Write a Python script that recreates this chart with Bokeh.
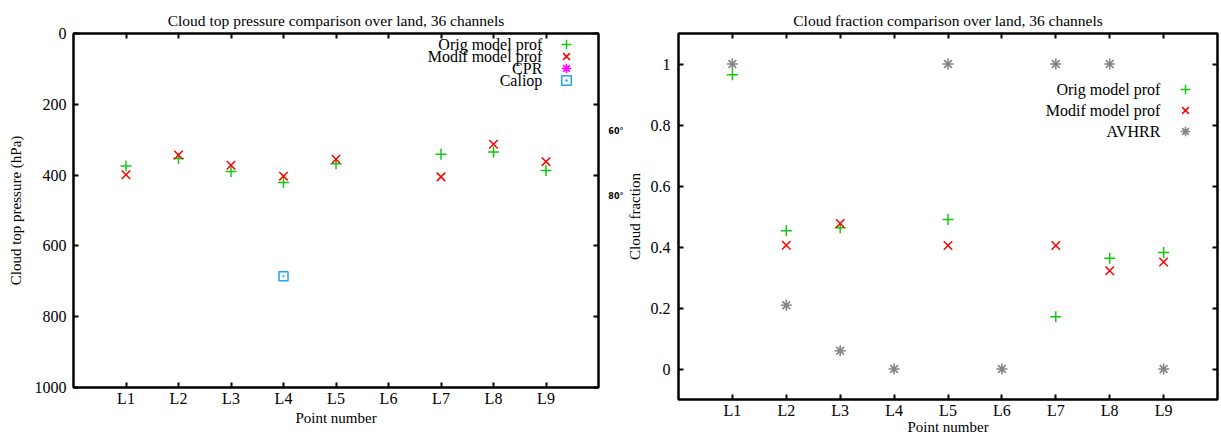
import math
from bokeh.plotting import figure
from bokeh.layouts import row
from bokeh.models import Range1d, FixedTicker, LinearAxis, Legend, LegendItem, Label
from bokeh.core.properties import value
from bokeh.embed import file_html
from bokeh.resources import INLINE

NaN = float("nan")

# ---------------- data ----------------
categories = ["L1", "L2", "L3", "L4", "L5", "L6", "L7", "L8", "L9"]
positions = list(range(1, len(categories) + 1))

ctp_title = "Cloud top pressure comparison over land, 36 channels"
ctp_series = ["Orig model prof", "Modif model prof", "CPR", "Caliop"]
ctp_orig = [374, 353, 390, 421, 368, NaN, 341, 335, 387]
ctp_modif = [399, 343, 372, 403, 355, NaN, 405, 313, 362]
ctp_cpr = [NaN, NaN, NaN, NaN, NaN, NaN, NaN, NaN, NaN]
ctp_caliop = [NaN, NaN, NaN, 686, NaN, NaN, NaN, NaN, NaN]
ctp_ticks = [0, 200, 400, 600, 800, 1000]

cf_title = "Cloud fraction comparison over land, 36 channels"
cf_series = ["Orig model prof", "Modif model prof", "AVHRR"]
cf_orig = [0.965, 0.453, 0.463, NaN, 0.490, NaN, 0.171, 0.363, 0.382]
cf_modif = [NaN, 0.406, 0.477, NaN, 0.405, NaN, 0.405, 0.322, 0.351]
cf_avhrr = [1.0, 0.209, 0.06, 0.0, 1.0, 0.0, 1.0, 1.0, 0.0]
cf_ticks = [0, 0.2, 0.4, 0.6, 0.8, 1]
cf_tick_labels = ["0", "0.2", "0.4", "0.6", "0.8", "1"]

# stray map-latitude labels visible between the panels
map_labels = ["60°", "80°"]
map_label_pos = [0.779, 0.566]

# ---------------- style ----------------
FONT = "Liberation Serif"
GREEN = "#10c810"
RED = "#ff0000"
MAGENTA = "#ff00ff"
CYAN = "#1aa6ee"
GRAY = "#858585"


def base_fig(fw, fh, title, y_range, borders, tfs):
    l, r, t, b = borders
    p = figure(frame_width=fw, frame_height=fh, x_range=Range1d(0, 10), y_range=y_range,
               output_backend="svg", toolbar_location=None, title=title,
               min_border_left=l, min_border_right=r, min_border_top=t, min_border_bottom=b)
    p.title.text_font = FONT
    p.title.text_font_style = "normal"
    p.title.text_font_size = tfs
    p.title.align = "center"
    p.title.text_color = "black"
    p.xgrid.visible = False
    p.ygrid.visible = False
    p.outline_line_color = "black"
    p.outline_line_width = 2.5
    p.outline_line_alpha = 1
    p.background_fill_color = "white"
    p.border_fill_color = "white"
    return p


def style_axis(ax, fs, afs):
    ax.axis_line_color = None
    ax.major_tick_in = 5
    ax.major_tick_out = 0
    ax.major_tick_line_width = 2
    ax.major_tick_line_color = "black"
    ax.minor_tick_line_color = None
    ax.major_label_text_font = FONT
    ax.major_label_text_font_size = fs
    ax.major_label_text_color = "black"
    ax.axis_label_text_font = FONT
    ax.axis_label_text_font_style = "normal"
    ax.axis_label_text_font_size = afs
    ax.axis_label_text_color = "black"


def mirror(p, ticker, loc):
    ax = LinearAxis(ticker=ticker)
    ax.axis_line_color = None
    ax.major_tick_in = 5
    ax.major_tick_out = 0
    ax.major_tick_line_width = 2
    ax.minor_tick_line_color = None
    ax.major_label_text_font_size = "0px"
    ax.major_label_text_color = None
    ax.major_label_standoff = 0
    p.add_layout(ax, loc)


def add_key(p, renderer, label, cx, cy, frame_h, tx, ty, fs):
    # legend symbol (glyph only) right of a right-aligned text, gnuplot style
    g = 24
    lg = Legend(items=[LegendItem(label=value(""), renderers=[renderer])],
                location=(cx - g / 2, frame_h - (cy + g / 2)), padding=0, margin=0,
                spacing=0, glyph_width=g, glyph_height=g, label_height=g,
                label_width=0, label_standoff=0,
                border_line_color=None, background_fill_alpha=0,
                label_text_font_size="1px")
    p.add_layout(lg, "center")
    p.add_layout(Label(x=tx, y=ty, text=label, text_align="right", text_baseline="middle",
                       text_font=FONT, text_font_size=fs, text_color="black"))


x_ticker = FixedTicker(ticks=positions)
x_labels = {pos: cat for pos, cat in zip(positions, categories)}

# ---------------- left panel ----------------
fh1 = 354
p1 = base_fig(525, fh1, ctp_title, Range1d(1000, 0), (73, 7, 33, 52), "15.5px")
style_axis(p1.xaxis[0], "16px", "15px")
style_axis(p1.yaxis[0], "16px", "15px")
p1.xaxis.ticker = x_ticker
p1.xaxis.major_label_overrides = x_labels
p1.xaxis.axis_label = "Point number"
p1.xaxis.major_label_standoff = 2
p1.xaxis.axis_label_standoff = 0
p1.yaxis.ticker = FixedTicker(ticks=ctp_ticks)
p1.yaxis.axis_label = "Cloud top pressure (hPa)"
p1.yaxis.major_label_standoff = 7
p1.yaxis.axis_label_standoff = 8
mirror(p1, FixedTicker(ticks=ctp_ticks), "right")
mirror(p1, x_ticker, "above")

r1 = p1.scatter(positions, ctp_orig, marker="cross", size=11, line_color=GREEN, line_width=1.5)
r2 = p1.scatter(positions, ctp_modif, marker="x", size=12, line_color=RED, line_width=1.5)
r3 = p1.scatter(positions, ctp_cpr, marker="asterisk", size=11, line_color=MAGENTA, line_width=1.5)
r4 = p1.scatter(positions, ctp_caliop, marker="square_dot", size=9, line_color=CYAN,
                fill_color=None, line_width=1.5)

key_rows1 = [11.2, 23.2, 35.4, 47.2]
for r, lab, cy in zip([r1, r2, r3, r4], ctp_series, key_rows1):
    add_key(p1, r, lab, 493, cy, fh1, 8.93, cy / fh1 * 1000, "16px")

# ---------------- right panel ----------------
fh2 = 366
p2 = base_fig(539, fh2, cf_title, Range1d(-0.1, 1.1), (73, 4, 33, 40), "15.5px")
style_axis(p2.xaxis[0], "16px", "15px")
style_axis(p2.yaxis[0], "16px", "15px")
p2.xaxis.ticker = x_ticker
p2.xaxis.major_label_overrides = x_labels
p2.xaxis.axis_label = "Point number"
p2.xaxis.major_label_standoff = 2
p2.xaxis.axis_label_standoff = -3
p2.yaxis.ticker = FixedTicker(ticks=cf_ticks)
p2.yaxis.major_label_overrides = {t: s for t, s in zip(cf_ticks, cf_tick_labels)}
p2.yaxis.axis_label = "Cloud fraction"
p2.yaxis.major_label_standoff = 8
p2.yaxis.axis_label_standoff = 5
mirror(p2, FixedTicker(ticks=cf_ticks), "right")
mirror(p2, x_ticker, "above")

lat_axis = LinearAxis(ticker=FixedTicker(ticks=map_label_pos),
                      major_label_overrides={t: s for t, s in zip(map_label_pos, map_labels)})
lat_axis.axis_line_color = None
lat_axis.major_tick_line_color = None
lat_axis.minor_tick_line_color = None
lat_axis.major_tick_in = 0
lat_axis.major_tick_out = 0
lat_axis.major_label_standoff = 0
lat_axis.major_label_text_font = "DejaVu Sans"
lat_axis.major_label_text_font_style = "bold"
lat_axis.major_label_text_font_size = "8px"
lat_axis.major_label_text_color = "black"
p2.add_layout(lat_axis, "left")

s1 = p2.scatter(positions, cf_orig, marker="cross", size=11, line_color=GREEN, line_width=1.5)
s2 = p2.scatter(positions, cf_modif, marker="x", size=12, line_color=RED, line_width=1.5)
s3 = p2.scatter(positions, cf_avhrr, marker="asterisk", size=11, line_color=GRAY, line_width=1.6)

key_rows2 = [55.5, 76.5, 97.5]
for r, lab, cy in zip([s1, s2, s3], cf_series, key_rows2):
    add_key(p2, r, lab, 507, cy, fh2, 8.94, 1.1 - cy / fh2 * 1.2, "16px")

layout = row(p1, p2)
open("out.html", "w").write(file_html(layout, INLINE))
